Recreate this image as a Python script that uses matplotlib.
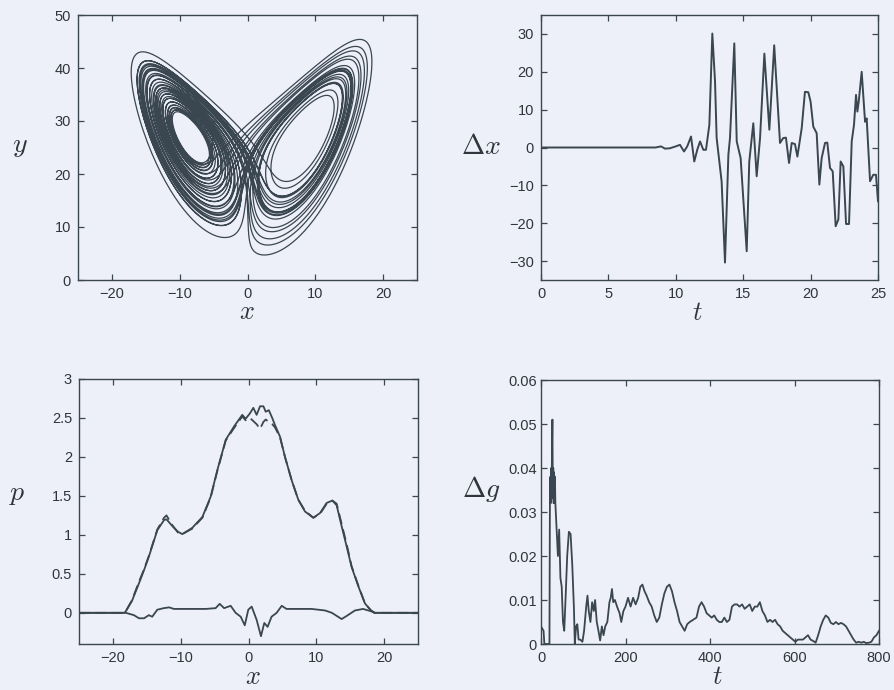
import numpy as np
import matplotlib
matplotlib.use("Agg")
import matplotlib.pyplot as plt
from matplotlib.ticker import FixedLocator, FixedFormatter

# ---------------------------------------------------------------------------
# Lorenz system parameters (phase portrait, top-left)
# ---------------------------------------------------------------------------
sigma, rho, beta = 10.0, 28.0, 8.0 / 3.0
start_offset = [3.5, 3.0, 1.0]      # offset from the fixed point C-
t_end = 40.0
dt = 0.004

# ---------------------------------------------------------------------------
# Trajectory difference  Delta x(t)  (top-right)
# ---------------------------------------------------------------------------
dx_t = [0, 8.5, 8.9, 9.2, 9.57, 10.0, 10.31, 10.61, 10.85, 11.13, 11.37, 11.6,
        11.8, 12.04, 12.24, 12.49, 12.71, 12.91, 13.03, 13.4, 13.65, 13.9,
        14.02, 14.34, 14.52, 14.81, 15.26, 15.45, 15.75, 16.0, 16.25, 16.57,
        16.94, 17.3, 17.73, 17.97, 18.17, 18.4, 18.6, 18.84, 19.02, 19.34,
        19.58, 19.83, 20.0, 20.2, 20.45, 20.65, 20.82, 21.07, 21.24, 21.44,
        21.64, 21.86, 22.06, 22.23, 22.43, 22.63, 22.85, 23.05, 23.22, 23.37,
        23.47, 23.57, 23.79, 24.04, 24.16, 24.41, 24.65, 24.85, 25.0]
dx_val = [0, 0, 0.3, -0.3, -0.2, 0.3, 0.7, -1.05, 0.3, 2.9, -3.7, -0.5,
          1.6, -0.6, -0.6, 6, 30.1, 17.4, 2.5, -9, -30.4, -1.9,
          2.5, 27.5, 1.6, -2.8, -27.4, -3.7, 6.4, -7.6, 2.5, 24.8,
          4.7, 27, 1.2, 2.5, 2.6, -4.1, 1.2, 0.9, -2.4, 5.1,
          14.7, 14.6, 12.1, 5.5, 3.8, -9.8, -2.8, 1.2, 1.3, -5.4,
          -6.3, -20.8, -19, -3.7, -5, -20.2, -20.2, 1.6, 6, 13.9,
          9.5, 12.1, 20, 6.8, 7.7, -8.9, -7.2, -7.2, -14.2]

# ---------------------------------------------------------------------------
# Density p(x): estimated (solid), reference (dashed) and their difference
# ---------------------------------------------------------------------------
p_x = [-25, -18.3, -18.1, -17.2, -16.15, -15.4, -14.7, -13.45, -12.46, -12.1,
       -11.2, -10.4, -9.76, -8.3, -6.8, -5.58, -4.6, -3.36, -2.14, -0.92,
       -0.42, 0.22, 0.71, 1.2, 1.7, 2.2, 2.54, 3.0, 3.5, 3.9, 4.65, 5.38,
       6.37, 7.35, 8.33, 9.56, 10.55, 11.53, 12.37, 13.0, 13.74, 14.48,
       15.2, 16.2, 17.18, 18.07, 18.6, 25]
p_est = [0, 0, 0.02, 0.15, 0.38, 0.55, 0.72, 1.06, 1.19, 1.2,
         1.11, 1.04, 1.01, 1.09, 1.23, 1.49, 1.83, 2.22, 2.39, 2.54,
         2.49, 2.56, 2.63, 2.54, 2.65, 2.65, 2.58, 2.6, 2.5, 2.41, 2.26, 2.0,
         1.7, 1.45, 1.3, 1.22, 1.28, 1.41, 1.44, 1.38, 1.11, 0.85,
         0.59, 0.34, 0.12, 0.03, 0, 0]
p_ref = [0, 0, 0.02, 0.16, 0.4, 0.56, 0.73, 1.07, 1.22, 1.25,
         1.12, 1.03, 1.01, 1.08, 1.22, 1.48, 1.82, 2.21, 2.37, 2.52,
         2.47, 2.5, 2.46, 2.42, 2.36, 2.45, 2.48, 2.45, 2.42, 2.38, 2.25, 2.0,
         1.7, 1.45, 1.31, 1.22, 1.27, 1.4, 1.44, 1.4, 1.14, 0.88,
         0.6, 0.35, 0.12, 0.03, 0, 0]
dp_x = [-25, -18.1, -16.9, -16.15, -15.4, -14.7, -14.2, -13.45, -12.5, -11.7,
        -11.0, -9.3, -6.3, -4.85, -4.25, -3.6, -2.63, -1.9, -1.15, -0.55,
        -0.03, 0.47, 1.2, 1.84, 2.33, 2.82, 3.4, 4.15, 4.9, 5.6, 7.35,
        9.3, 11.3, 12.3, 13.74, 14.48, 15.7, 16.9, 18.07, 18.6, 25]
dp_val = [0, 0, -0.03, -0.07, -0.07, -0.03, -0.05, 0.04, 0.06, 0.07,
          0.05, 0.05, 0.05, 0.06, 0.115, 0.06, 0.09, 0.0, -0.05, -0.16,
          0.04, 0.08, -0.09, -0.3, -0.13, -0.18, -0.05, 0.0, 0.09, 0.05, 0.05,
          0.05, 0.03, 0.0, -0.08, -0.04, 0.03, 0.05, 0.02, 0, 0]

# ---------------------------------------------------------------------------
# Error  Delta g(t)  (bottom-right)
# ---------------------------------------------------------------------------
dg_t = [0, 6, 8, 20, 21, 22, 23, 24, 25, 26, 27, 28, 29, 30, 31, 32, 33, 34,
        37, 40, 43, 46, 49, 52, 55, 58, 62, 66, 70, 74, 78, 80, 83, 86, 89,
        93, 98, 102, 107, 110, 113, 117, 121, 125, 128, 132, 136, 140, 144,
        148, 152, 157, 162, 165, 168, 171, 175, 180, 186, 190, 195, 200, 206,
        212, 218, 224, 230, 235, 240, 245, 250, 256, 262, 268, 274, 280, 286,
        292, 298, 304, 310, 316, 322, 328, 334, 340, 346, 352, 360, 368, 374,
        380, 386, 392, 398, 404, 410, 416, 422, 428, 434, 440, 446, 452, 458,
        464, 470, 476, 482, 488, 494, 500, 506, 512, 518, 524, 530, 536, 542,
        548, 554, 560, 566, 572, 578, 584, 590, 596, 602, 608, 614, 620, 626,
        632, 638, 644, 650, 656, 662, 668, 674, 680, 686, 692, 698, 704, 710,
        716, 722, 728, 734, 740, 746, 752, 758, 764, 770, 776, 782, 788, 794,
        800]
dg_val = [0.004, 0.003, 0.0, 0.0, 0.030, 0.038, 0.032, 0.040, 0.033, 0.044,
          0.051, 0.034, 0.040, 0.032, 0.039, 0.033, 0.038, 0.032,
          0.026, 0.020, 0.026, 0.015, 0.013, 0.005, 0.003, 0.010, 0.020,
          0.0255, 0.025, 0.018, 0.008, 0.0, 0.004, 0.0045, 0.001,
          0.001, 0.0005, 0.003, 0.0085, 0.011, 0.0075, 0.005, 0.0095, 0.0075,
          0.010, 0.005, 0.003, 0.0008, 0.004,
          0.002, 0.004, 0.005, 0.0095, 0.0105, 0.0125, 0.0095, 0.010, 0.0085,
          0.007, 0.005, 0.0075, 0.0085, 0.0105,
          0.0085, 0.0105, 0.009, 0.0105, 0.013, 0.0135, 0.012, 0.011, 0.0095,
          0.0085, 0.0065, 0.005, 0.006, 0.009,
          0.0115, 0.013, 0.0135, 0.012, 0.0095, 0.0075, 0.005, 0.004, 0.003,
          0.0045, 0.005, 0.0055, 0.006, 0.0085,
          0.0095, 0.0085, 0.007, 0.0065, 0.006, 0.0065, 0.0055, 0.005, 0.005,
          0.006, 0.005, 0.0055, 0.0085, 0.009,
          0.009, 0.0085, 0.009, 0.008, 0.0085, 0.009, 0.0075, 0.0085, 0.0085,
          0.0095, 0.0075, 0.0065, 0.005, 0.0055,
          0.005, 0.0055, 0.0045, 0.004, 0.003, 0.0025, 0.002, 0.0015, 0.001,
          0.0005, 0.001, 0.001, 0.001, 0.0015,
          0.002, 0.001, 0.0007, 0.0003, 0.002, 0.004, 0.0055, 0.0065, 0.006,
          0.0048, 0.0045, 0.005, 0.0045, 0.0048,
          0.0045, 0.004, 0.003, 0.002, 0.001, 0.0003, 0.0005, 0.0003, 0.0005,
          0.0002, 0.0003, 0.0005, 0.0015, 0.002,
          0.003]

# ---------------------------------------------------------------------------
# Styling
# ---------------------------------------------------------------------------
BG = "#eef0f9"
INK = "#3a4650"
TXT = "#2f353b"

plt.rcParams["font.family"] = ["Liberation Sans", "DejaVu Sans"]
plt.rcParams["mathtext.fontset"] = "cm"
plt.rcParams["axes.linewidth"] = 1.0

W, H = 894, 690
fig = plt.figure(figsize=(W / 100, H / 100), dpi=100, facecolor=BG)


def px_axes(left, top, right, bottom):
    ax = fig.add_axes([left / W, 1 - bottom / H, (right - left) / W,
                       (bottom - top) / H], facecolor=BG)
    for s in ax.spines.values():
        s.set_color(INK)
    ax.tick_params(direction="in", top=True, right=True, length=4, width=0.9,
                   colors=INK, labelcolor=TXT, labelsize=10.5, pad=5)
    return ax


def set_ticks(ax, xt, xl, yt, yl):
    ax.xaxis.set_major_locator(FixedLocator(xt))
    ax.xaxis.set_major_formatter(FixedFormatter(xl))
    ax.yaxis.set_major_locator(FixedLocator(yt))
    ax.yaxis.set_major_formatter(FixedFormatter(yl))


def label(x, y, s, size=20):
    fig.text(x / W, 1 - y / H, s, ha="center", va="center", fontsize=size,
             color=TXT)


# Lorenz trajectory by fourth-order Runge-Kutta
def rhs(s):
    x, y, z = s
    return np.array([sigma * (y - x), x * (rho - z) - y, x * y - beta * z])


c = np.sqrt(beta * (rho - 1.0))
s = np.array([-c, -c, rho - 1.0]) + np.array(start_offset)
n = int(t_end / dt)
traj = np.empty((n + 1, 3))
traj[0] = s
for i in range(n):
    k1 = rhs(s)
    k2 = rhs(s + 0.5 * dt * k1)
    k3 = rhs(s + 0.5 * dt * k2)
    k4 = rhs(s + dt * k3)
    s = s + dt / 6.0 * (k1 + 2 * k2 + 2 * k3 + k4)
    traj[i + 1] = s

# --- top-left: phase portrait
ax1 = px_axes(78, 15, 417, 280)
ax1.plot(traj[:, 0], traj[:, 2], color=INK, lw=0.9)
ax1.set_xlim(-25, 25)
ax1.set_ylim(0, 50)
set_ticks(ax1, [-20, -10, 0, 10, 20], ["\u221220", "\u221210", "0", "10", "20"],
          [0, 10, 20, 30, 40, 50], ["0", "10", "20", "30", "40", "50"])
label(20, 146, r"$y$")
label(247, 312, r"$x$", 19)

# --- top-right: Delta x
ax2 = px_axes(541, 15, 878, 280)
ax2.plot(dx_t, dx_val, color=INK, lw=1.4)
ax2.set_xlim(0, 25)
ax2.set_ylim(-35, 35)
set_ticks(ax2, [0, 5, 10, 15, 20, 25], ["0", "5", "10", "15", "20", "25"],
          [-30, -20, -10, 0, 10, 20, 30],
          ["\u221230", "\u221220", "\u221210", "0", "10", "20", "30"])
label(481, 147, r"$\Delta x$", 20)
label(697, 313, r"$t$", 19)

# --- bottom-left: densities
ax3 = px_axes(79, 379, 418, 644)
ax3.plot(p_x, p_ref, color=INK, lw=1.3, ls=(0, (6, 3)))
ax3.plot(p_x, p_est, color=INK, lw=1.3)
ax3.plot(dp_x, dp_val, color=INK, lw=1.3)
ax3.set_xlim(-25, 25)
ax3.set_ylim(-0.4, 3)
set_ticks(ax3, [-20, -10, 0, 10, 20], ["\u221220", "\u221210", "0", "10", "20"],
          [0, 0.5, 1, 1.5, 2, 2.5, 3],
          ["0", "0.5", "1", "1.5", "2", "2.5", "3"])
label(17, 494, r"$p$")
label(253, 677, r"$x$", 19)

# --- bottom-right: Delta g
ax4 = px_axes(541, 380, 879, 644)
ax4.plot(dg_t, dg_val, color=INK, lw=1.3)
ax4.set_xlim(0, 800)
ax4.set_ylim(0, 0.06)
set_ticks(ax4, [0, 200, 400, 600, 800], ["0", "200", "400", "600", "800"],
          [0, 0.01, 0.02, 0.03, 0.04, 0.05, 0.06],
          ["0", "0.01", "0.02", "0.03", "0.04", "0.05", "0.06"])
ax4.tick_params(axis="y", pad=3)
label(481, 489, r"$\Delta g$", 20)
label(717, 677, r"$t$", 19)

fig.savefig("out.png", dpi=100, facecolor=BG)
